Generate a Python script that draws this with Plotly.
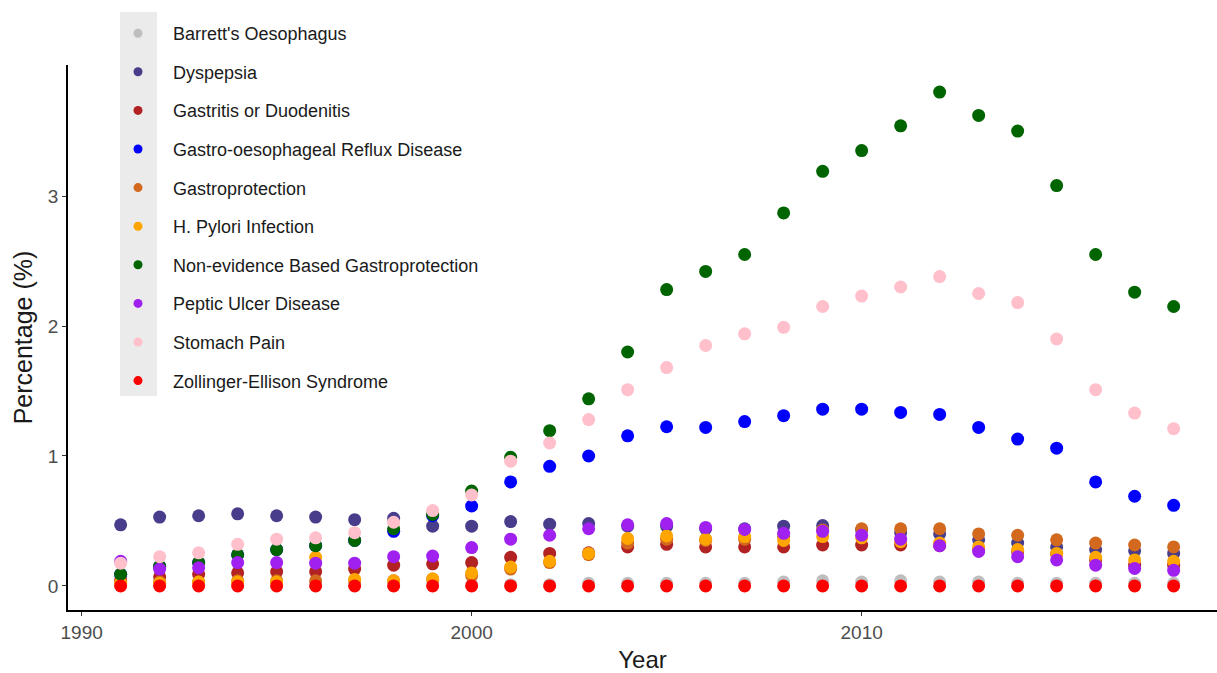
import plotly.graph_objects as go

years = list(range(1991, 2019))

series_names = [
    "Barrett's Oesophagus",
    "Dyspepsia",
    "Gastritis or Duodenitis",
    "Gastro-oesophageal Reflux Disease",
    "Gastroprotection",
    "H. Pylori Infection",
    "Non-evidence Based Gastroprotection",
    "Peptic Ulcer Disease",
    "Stomach Pain",
    "Zollinger-Ellison Syndrome",
]

series_colors = [
    "#BEBEBE", "#483D8B", "#B22222", "#0000FF", "#D2691E",
    "#FFA500", "#006400", "#A020F0", "#FFC0CB", "#FF0000",
]

barretts = [0.01, 0.01, 0.01, 0.01, 0.01, 0.01, 0.01, 0.01, 0.01, 0.01,
            0.01, 0.01, 0.02, 0.02, 0.02, 0.02, 0.02, 0.03, 0.04, 0.03,
            0.04, 0.03, 0.03, 0.02, 0.02, 0.02, 0.02, 0.02]
dyspepsia = [0.47, 0.53, 0.54, 0.555, 0.54, 0.53, 0.51, 0.52, 0.46, 0.46,
             0.495, 0.475, 0.48, 0.46, 0.46, 0.44, 0.44, 0.46, 0.465, 0.43,
             0.41, 0.40, 0.355, 0.33, 0.30, 0.28, 0.27, 0.25]
gastritis = [0.046, 0.07, 0.09, 0.10, 0.11, 0.11, 0.13, 0.16, 0.17, 0.18,
             0.22, 0.25, 0.255, 0.30, 0.32, 0.30, 0.30, 0.30, 0.315, 0.315,
             0.315, 0.31, 0.28, 0.265, 0.245, 0.20, 0.16, 0.16]
gerd = [0.09, 0.15, 0.18, 0.24, 0.28, 0.31, 0.35, 0.42, 0.54, 0.615,
        0.80, 0.92, 1.00, 1.155, 1.225, 1.22, 1.265, 1.31, 1.36, 1.36,
        1.335, 1.32, 1.22, 1.13, 1.06, 0.80, 0.69, 0.62]
gastroprotection = [0.03, 0.03, 0.03, 0.04, 0.04, 0.04, 0.04, 0.04, 0.05, 0.08,
                    0.13, 0.18, 0.24, 0.33, 0.36, 0.35, 0.36, 0.38, 0.43, 0.44,
                    0.44, 0.44, 0.40, 0.39, 0.355, 0.33, 0.315, 0.30]
h_pylori = [0.02, 0.02, 0.03, 0.03, 0.03, 0.22, 0.05, 0.04, 0.055, 0.10,
            0.145, 0.19, 0.25, 0.365, 0.385, 0.36, 0.38, 0.35, 0.38, 0.37,
            0.34, 0.33, 0.30, 0.28, 0.25, 0.22, 0.20, 0.19]
non_evidence = [0.09, 0.15, 0.18, 0.24, 0.28, 0.31, 0.35, 0.44, 0.55, 0.73,
                0.99, 1.195, 1.44, 1.80, 2.28, 2.42, 2.55, 2.87, 3.19, 3.35,
                3.54, 3.80, 3.62, 3.50, 3.08, 2.55, 2.26, 2.15]
peptic_ulcer = [0.19, 0.13, 0.14, 0.18, 0.18, 0.175, 0.175, 0.225, 0.23, 0.295,
                0.36, 0.39, 0.44, 0.47, 0.48, 0.45, 0.435, 0.405, 0.42, 0.39,
                0.36, 0.31, 0.265, 0.225, 0.20, 0.16, 0.135, 0.12]
stomach_pain = [0.175, 0.225, 0.255, 0.32, 0.36, 0.37, 0.41, 0.49, 0.58, 0.70,
                0.96, 1.10, 1.28, 1.51, 1.68, 1.85, 1.94, 1.99, 2.15, 2.23,
                2.30, 2.38, 2.25, 2.18, 1.90, 1.51, 1.33, 1.21]
zollinger = [0.0] * 28

series_values = [
    barretts, dyspepsia, gastritis, gerd, gastroprotection,
    h_pylori, non_evidence, peptic_ulcer, stomach_pain, zollinger,
]

x_ticks = [1990, 2000, 2010]
y_ticks = [0, 1, 2, 3]

fig = go.Figure()
for i, (name, color, vals) in enumerate(zip(series_names, series_colors, series_values)):
    fig.add_trace(go.Scatter(
        x=years, y=vals, name=name, mode="markers",
        showlegend=False,
        marker=dict(color=color, size=13, line=dict(width=0)),
    ))

# legend keys drawn with a smaller symbol than the plotted points
for i, (name, color) in enumerate(zip(series_names, series_colors)):
    fig.add_trace(go.Scatter(
        x=[None], y=[None], name=name, mode="markers",
        legendgroup=f"g{i}", showlegend=True, hoverinfo="skip",
        marker=dict(color=color, size=9, line=dict(width=0)),
    ))

W, H = 1217, 673
L, R, T, B = 68, 0, 65, 63
pw, ph = W - L - R, H - T - B

def px_x(p):
    return (p - L) / pw

def px_y(p):
    return 1 - (p - T) / ph

# grey strip behind the legend keys
fig.add_shape(type="rect", xref="paper", yref="paper",
              x0=px_x(120), x1=px_x(157), y0=px_y(396), y1=px_y(12),
              fillcolor="#EBEBEB", line=dict(width=0), layer="below")

tick_font = dict(family="Liberation Sans, Arial, sans-serif", size=19, color="#4D4D4D")

fig.update_layout(
    width=W, height=H,
    margin=dict(l=L, r=R, t=T, b=B),
    plot_bgcolor="white", paper_bgcolor="white",
    font=dict(family="Liberation Sans, Arial, sans-serif"),
    xaxis=dict(
        range=[1989.65, 1989.65 + pw / 39.0],
        tickvals=x_ticks, ticktext=[str(v) for v in x_ticks],
        showgrid=False, zeroline=False,
        showline=True, linecolor="black", linewidth=1.5,
        ticks="outside", ticklen=4, tickcolor="#333333", tickwidth=1,
        tickfont=tick_font,
        title=dict(text="Year", font=dict(size=24, color="#1A1A1A"), standoff=10),
    ),
    yaxis=dict(
        range=[-0.185, 4.008],
        tickvals=y_ticks, ticktext=[str(v) for v in y_ticks],
        showgrid=False, zeroline=False,
        showline=True, linecolor="black", linewidth=1.5,
        ticks="outside", ticklen=4, tickcolor="#333333", tickwidth=1,
        tickfont=tick_font,
        title=dict(text="Percentage (%)", font=dict(size=25, color="#1A1A1A"), standoff=8),
    ),
    legend=dict(
        x=px_x(103), xanchor="left",
        y=px_y(15), yanchor="top",
        bgcolor="rgba(0,0,0,0)",
        font=dict(size=18, color="#1A1A1A"),
        tracegroupgap=12.2,
        itemsizing="trace",
        itemwidth=60,
        maxheight=700,
    ),
    showlegend=True,
)

fig.write_html("out.html")
